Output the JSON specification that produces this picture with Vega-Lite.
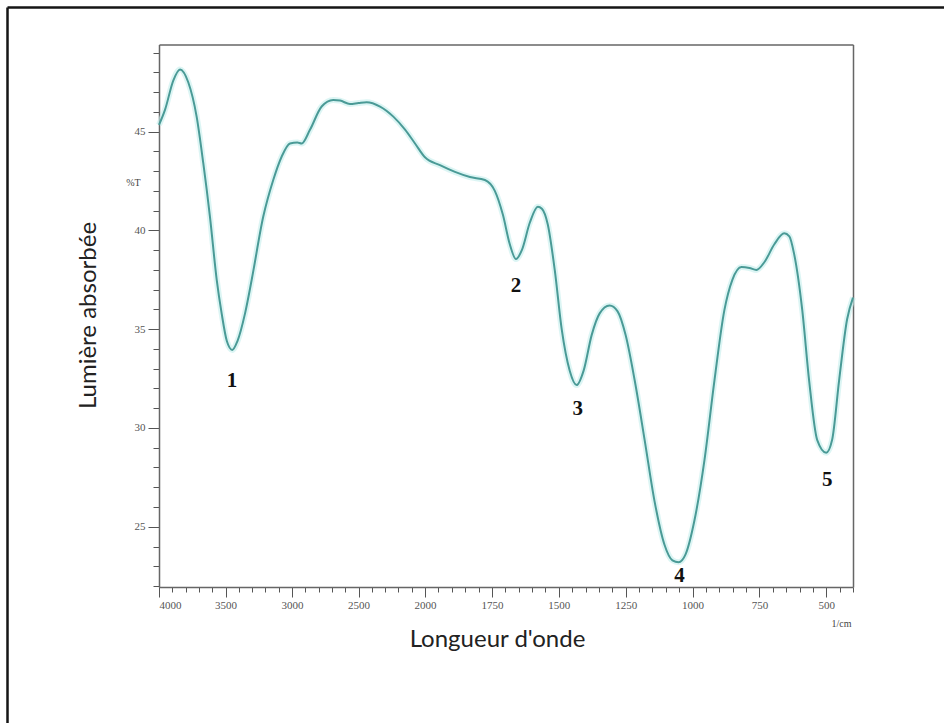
{
  "$schema": "https://vega.github.io/schema/vega-lite/v6.json",
  "width": 937,
  "height": 716,
  "autosize": {"type": "none"},
  "padding": {"left": 7, "top": 7, "right": 0, "bottom": 0},
  "background": "white",
  "config": {"view": {"stroke": null}, "axis": {"grid": false}},
  "datasets": {
    "spectrum": [
      {"wn": 4000, "t": 45.34}, {"wn": 3955, "t": 46.1}, {"wn": 3892, "t": 47.6}, {"wn": 3842, "t": 48.15},
      {"wn": 3780, "t": 47.5}, {"wn": 3717, "t": 45.76}, {"wn": 3667, "t": 43.4}, {"wn": 3617, "t": 40.7},
      {"wn": 3566, "t": 37.5}, {"wn": 3529, "t": 35.8}, {"wn": 3490, "t": 34.4}, {"wn": 3449, "t": 33.95},
      {"wn": 3410, "t": 34.4}, {"wn": 3353, "t": 35.8}, {"wn": 3303, "t": 37.5}, {"wn": 3216, "t": 40.7},
      {"wn": 3141, "t": 42.55}, {"wn": 3078, "t": 43.73}, {"wn": 3015, "t": 44.4}, {"wn": 2960, "t": 44.45},
      {"wn": 2927, "t": 44.4}, {"wn": 2865, "t": 45.09}, {"wn": 2777, "t": 46.27}, {"wn": 2690, "t": 46.6},
      {"wn": 2639, "t": 46.57}, {"wn": 2564, "t": 46.4}, {"wn": 2500, "t": 46.45}, {"wn": 2439, "t": 46.49},
      {"wn": 2338, "t": 46.27}, {"wn": 2238, "t": 45.76}, {"wn": 2150, "t": 45.1}, {"wn": 2075, "t": 44.4},
      {"wn": 2000, "t": 43.7}, {"wn": 1944, "t": 43.3}, {"wn": 1888, "t": 42.96}, {"wn": 1832, "t": 42.7},
      {"wn": 1776, "t": 42.55}, {"wn": 1739, "t": 42.0}, {"wn": 1709, "t": 40.8}, {"wn": 1683, "t": 39.3},
      {"wn": 1660, "t": 38.55}, {"wn": 1638, "t": 39.0}, {"wn": 1608, "t": 40.4}, {"wn": 1578, "t": 41.2},
      {"wn": 1563, "t": 41.1}, {"wn": 1541, "t": 40.3}, {"wn": 1515, "t": 38.0}, {"wn": 1489, "t": 35.0},
      {"wn": 1459, "t": 32.9}, {"wn": 1433, "t": 32.17}, {"wn": 1407, "t": 32.9}, {"wn": 1377, "t": 34.7},
      {"wn": 1347, "t": 35.8}, {"wn": 1310, "t": 36.2}, {"wn": 1280, "t": 35.9}, {"wn": 1250, "t": 34.7},
      {"wn": 1216, "t": 32.4}, {"wn": 1179, "t": 29.4}, {"wn": 1142, "t": 26.3}, {"wn": 1105, "t": 24.1},
      {"wn": 1075, "t": 23.3}, {"wn": 1052, "t": 23.2}, {"wn": 1026, "t": 23.6}, {"wn": 993, "t": 25.3},
      {"wn": 955, "t": 28.4}, {"wn": 918, "t": 32.4}, {"wn": 881, "t": 35.95}, {"wn": 851, "t": 37.5},
      {"wn": 817, "t": 38.15}, {"wn": 787, "t": 38.1}, {"wn": 761, "t": 38.0}, {"wn": 731, "t": 38.4},
      {"wn": 694, "t": 39.3}, {"wn": 657, "t": 39.85}, {"wn": 638, "t": 39.7}, {"wn": 620, "t": 38.8},
      {"wn": 590, "t": 36.0}, {"wn": 564, "t": 32.4}, {"wn": 534, "t": 29.4}, {"wn": 500, "t": 28.75},
      {"wn": 478, "t": 29.4}, {"wn": 452, "t": 32.4}, {"wn": 422, "t": 35.5}, {"wn": 400, "t": 36.6}
    ],
    "peaks": [
      {"label": "1", "wn": 3451, "t": 32.4},
      {"label": "2", "wn": 1660, "t": 37.2},
      {"label": "3", "wn": 1429, "t": 30.96},
      {"label": "4", "wn": 1049, "t": 22.5},
      {"label": "5", "wn": 496, "t": 27.36}
    ]
  },
  "layer": [
    {
      "data": {"name": "spectrum"},
      "mark": {"type": "point", "opacity": 0},
      "encoding": {
        "x": {"field": "wn", "type": "quantitative",
          "scale": {"domain": [4000, 400], "nice": false, "zero": false},
          "axis": {"orient": "top", "offset": 0, "domain": true, "domainColor": "#151515", "domainWidth": 2.5,
            "ticks": false, "labels": false, "title": null, "grid": false}},
        "y": {"field": "t", "type": "quantitative",
          "scale": {"domain": [20, 50], "nice": false, "zero": false},
          "axis": {"orient": "left", "offset": 0, "domain": true, "domainColor": "#151515", "domainWidth": 2.5,
            "ticks": false, "labels": false, "title": null, "grid": false}}
      }
    },
    {
      "data": {"name": "spectrum"},
      "mark": {"type": "line", "stroke": "#c4eeed", "strokeWidth": 6, "opacity": 0.6, "interpolate": "monotone"},
      "encoding": {
        "order": {"field": "wn", "sort": "descending"},
        "x": {"field": "wn", "type": "quantitative",
          "scale": {"domain": [4000, 2000, 400], "range": [152, 418, 846], "nice": false, "zero": false},
          "axis": {"orient": "bottom", "offset": -136, "values": [4000,3900,3800,3700,3600,3500,3400,3300,3200,3100,3000,2900,2800,2700,2600,2500,2400,2300,2200,2100,2000,1950,1900,1850,1800,1750,1700,1650,1600,1550,1500,1450,1400,1350,1300,1250,1200,1150,1100,1050,1000,950,900,850,800,750,700,650,600,550,500,450,400],
            "domain": false, "labels": false, "ticks": true, "tickSize": 5, "tickColor": "#555", "tickWidth": 1,
            "title": "1/cm", "titleFont": "Liberation Serif", "titleFontSize": 10, "titleFontWeight": "normal", "titleColor": "#444",
            "titleX": 834, "titleY": 36, "titleAlign": "center", "titleBaseline": "middle", "grid": false}},
        "y": {"field": "t", "type": "quantitative",
          "scale": {"domain": [21.95, 49.41], "range": [580, 37.5], "nice": false, "zero": false},
          "axis": {"orient": "left", "offset": -152, "values": [22,23,24,25,26,27,28,29,30,31,32,33,34,35,36,37,38,39,40,41,42,43,44,45,46,47,48,49],
            "domain": false, "labels": false, "ticks": true, "tickSize": 6, "tickColor": "#555", "tickWidth": 1,
            "title": "%T", "titleFont": "Liberation Serif", "titleFontSize": 10, "titleFontWeight": "normal", "titleColor": "#444",
            "titleAngle": 0, "titleX": -26, "titleY": 175, "titleAlign": "center", "titleBaseline": "middle", "grid": false}}
      }
    },
    {
      "data": {"name": "spectrum"},
      "mark": {"type": "line", "stroke": "#4a9a96", "strokeWidth": 2, "interpolate": "monotone"},
      "encoding": {
        "order": {"field": "wn", "sort": "descending"},
        "x": {"field": "wn", "type": "quantitative",
          "scale": {"domain": [4000, 2000, 400], "range": [152, 418, 846], "nice": false, "zero": false},
          "axis": {"orient": "bottom", "offset": -136, "values": [4000,3500,3000,2500,2000,1750,1500,1250,1000,750,500], "format": "d",
            "domain": true, "domainColor": "#666", "domainWidth": 1.5, "ticks": true, "tickSize": 10, "tickColor": "#555", "tickWidth": 1,
            "labels": true, "labelFont": "Liberation Serif", "labelFontSize": 11, "labelColor": "#555", "labelPadding": 2,
            "title": "Longueur d'onde", "titleFont": "Lato", "titleFontSize": 24, "titleFontWeight": "normal", "titleColor": "#222",
            "titleX": 490, "titleY": 52, "titleAlign": "center", "titleBaseline": "middle", "grid": false}},
        "y": {"field": "t", "type": "quantitative",
          "scale": {"domain": [21.95, 49.41], "range": [580, 37.5], "nice": false, "zero": false},
          "axis": {"orient": "left", "offset": -152, "values": [25, 30, 35, 40, 45],
            "domain": true, "domainColor": "#666", "domainWidth": 1.5, "ticks": true, "tickSize": 11, "tickColor": "#555", "tickWidth": 1,
            "labels": true, "labelFont": "Liberation Serif", "labelFontSize": 11, "labelColor": "#555", "labelPadding": 3,
            "title": "Lumière absorbée", "titleFont": "Lato", "titleFontSize": 24, "titleFontWeight": "normal", "titleColor": "#222",
            "titleAngle": -90, "titleX": -71, "titleY": 308, "titleAlign": "center", "titleBaseline": "middle", "grid": false}}
      }
    },
    {
      "data": {"name": "peaks"},
      "mark": {"type": "text", "font": "Liberation Serif", "fontSize": 21, "fontWeight": "bold", "color": "#111", "align": "center", "baseline": "middle"},
      "encoding": {
        "text": {"field": "label", "type": "nominal"},
        "x": {"field": "wn", "type": "quantitative",
          "scale": {"domain": [4000, 2000, 400], "range": [152, 418, 846], "nice": false, "zero": false},
          "axis": {"orient": "top", "offset": -37.5, "domain": true, "domainColor": "#666", "domainWidth": 1.5,
            "ticks": false, "labels": false, "title": null, "grid": false}},
        "y": {"field": "t", "type": "quantitative",
          "scale": {"domain": [21.95, 49.41], "range": [580, 37.5], "nice": false, "zero": false},
          "axis": {"orient": "right", "offset": -91, "domain": true, "domainColor": "#666", "domainWidth": 1.5,
            "ticks": false, "labels": false, "title": null, "grid": false}}
      }
    }
  ],
  "resolve": {
    "scale": {"x": "independent", "y": "independent"},
    "axis": {"x": "independent", "y": "independent"}
  }
}
